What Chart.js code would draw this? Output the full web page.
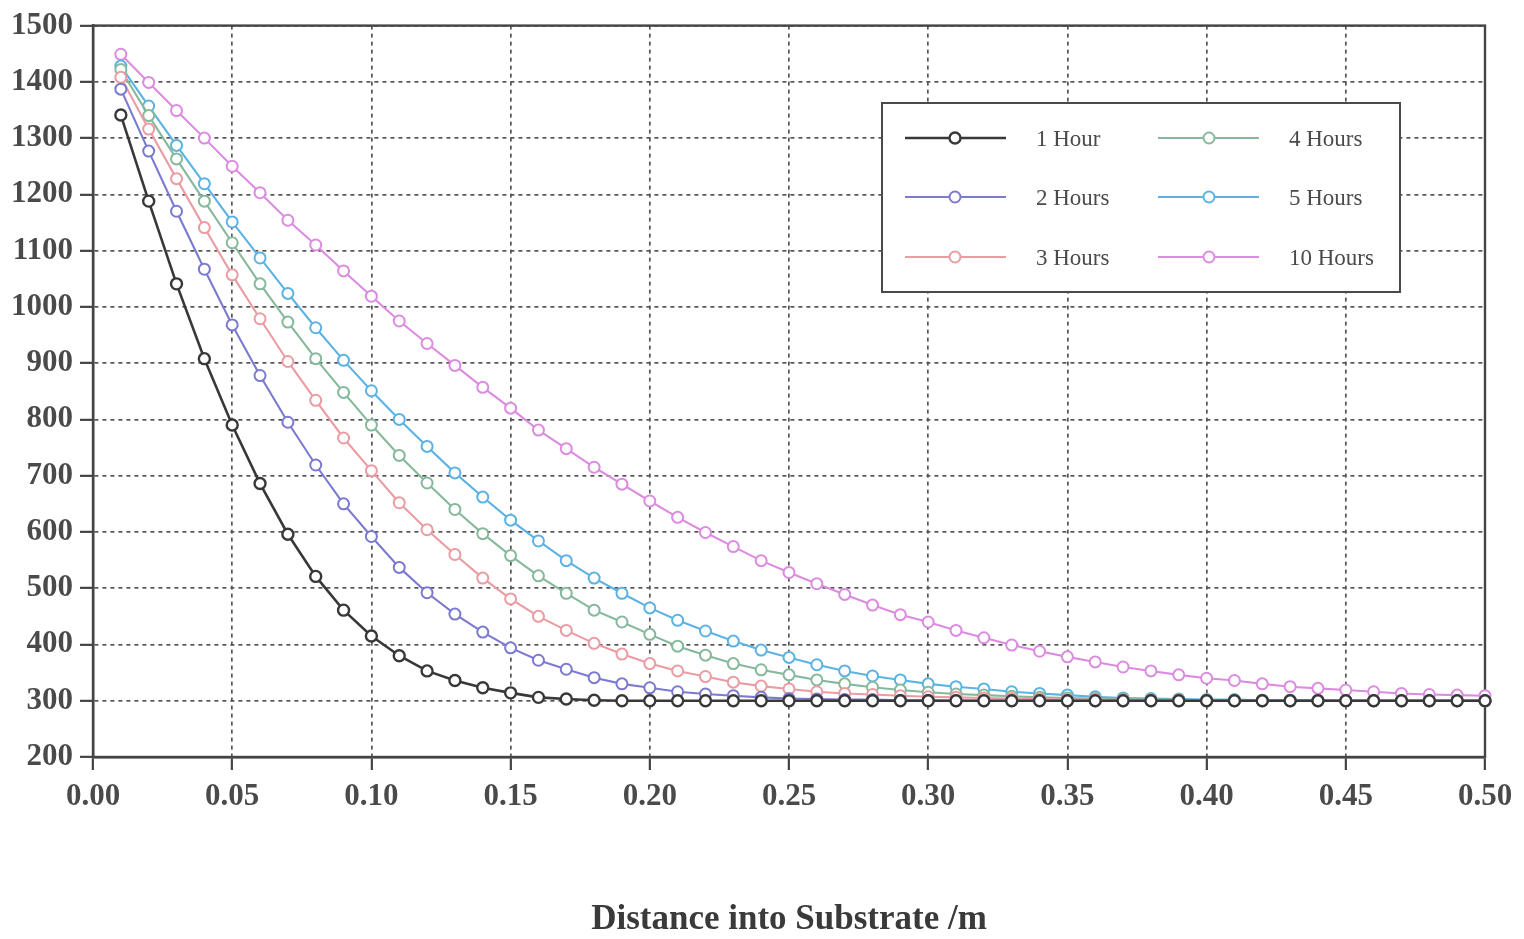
<!DOCTYPE html>
<html>
<head>
<meta charset="utf-8">
<title>Substrate temperature profile</title>
<script src="https://cdn.jsdelivr.net/npm/chart.js@4/dist/chart.umd.min.js"></script>
<style>
    html, body { margin: 0; padding: 0; background: #ffffff; }
    #wrap { width: 1524px; height: 939px; }
</style>
</head>
<body>
<div id="wrap"><canvas id="profileChart" width="1524" height="939"></canvas></div>
<script>
// Distance into substrate (m)
const distance = [
    0.01, 0.02, 0.03, 0.04, 0.05, 0.06, 0.07, 0.08, 0.09, 0.10,
    0.11, 0.12, 0.13, 0.14, 0.15, 0.16, 0.17, 0.18, 0.19, 0.20,
    0.21, 0.22, 0.23, 0.24, 0.25, 0.26, 0.27, 0.28, 0.29, 0.30,
    0.31, 0.32, 0.33, 0.34, 0.35, 0.36, 0.37, 0.38, 0.39, 0.40,
    0.41, 0.42, 0.43, 0.44, 0.45, 0.46, 0.47, 0.48, 0.49, 0.50
];

// Temperature at each depth after the given heating time
const hour1 = [
    1341, 1188, 1041, 908, 790, 686, 596, 521, 461, 415,
    380, 353, 336, 323, 314, 306, 303, 301, 300, 300,
    300, 300, 300, 300, 300, 300, 300, 300, 300, 300,
    300, 300, 300, 300, 300, 300, 300, 300, 300, 300,
    300, 300, 300, 300, 300, 300, 300, 300, 300, 300
];
const hours2 = [
    1387, 1277, 1170, 1067, 968, 878, 795, 719, 650, 592,
    537, 492, 454, 422, 394, 372, 356, 341, 330, 323,
    316, 312, 309, 306, 304, 303, 302, 302, 301, 301,
    300, 300, 300, 300, 300, 300, 300, 300, 300, 300,
    300, 300, 300, 300, 300, 300, 300, 300, 300, 300
];
const hours3 = [
    1408, 1316, 1228, 1141, 1057, 979, 903, 834, 767, 709,
    652, 604, 560, 518, 481, 450, 425, 402, 383, 366,
    353, 343, 333, 326, 321, 316, 313, 311, 309, 307,
    306, 305, 304, 303, 302, 302, 301, 301, 301, 300,
    300, 300, 300, 300, 300, 300, 300, 300, 300, 300
];
const hours4 = [
    1422, 1340, 1263, 1188, 1114, 1041, 973, 908, 848, 790,
    736, 687, 640, 597, 558, 522, 491, 461, 440, 418,
    397, 381, 366, 355, 346, 337, 330, 324, 319, 315,
    312, 310, 308, 306, 305, 304, 303, 302, 302, 301,
    301, 301, 300, 300, 300, 300, 300, 300, 300, 300
];
const hours5 = [
    1428, 1357, 1287, 1219, 1151, 1087, 1024, 963, 905, 851,
    800, 752, 705, 662, 621, 584, 549, 518, 491, 465,
    443, 424, 406, 390, 377, 364, 353, 344, 337, 330,
    325, 321, 316, 313, 310, 307, 305, 304, 303, 302,
    302, 301, 301, 301, 300, 300, 300, 300, 300, 300
];
const hours10 = [
    1449, 1399, 1349, 1300, 1250, 1203, 1154, 1110, 1064, 1019,
    975, 935, 896, 857, 820, 781, 748, 715, 685, 655,
    626, 599, 574, 549, 528, 508, 489, 470, 453, 440,
    425, 412, 399, 388, 378, 369, 360, 353, 346, 340,
    336, 330, 325, 322, 319, 316, 313, 311, 310, 309
];

const seriesLabels = ['1 Hour', '2 Hours', '3 Hours', '4 Hours', '5 Hours', '10 Hours'];
const seriesValues = [hour1, hours2, hours3, hours4, hours5, hours10];
const seriesColors = ['#383838', '#7c7ad0', '#eb9ca3', '#86b99c', '#5cb3e3', '#dc8ce0'];

const serif = "'Liberation Serif', 'Times New Roman', serif";

function makeDataset(label, values, color, index) {
    const heavy = index === 0;
    return {
        label: label,
        data: values.map((v, i) => ({ x: distance[i], y: v })),
        borderColor: color,
        backgroundColor: '#ffffff',
        borderWidth: heavy ? 2.6 : 2.1,
        pointRadius: 5.5,
        pointBorderWidth: heavy ? 2.4 : 2,
        pointBackgroundColor: '#ffffff',
        pointBorderColor: color,
        tension: 0,
        clip: false
    };
}

// Closed frame round the plot area
const framePlugin = {
    id: 'frame',
    beforeDatasetsDraw(chart) {
        const { ctx, chartArea: a } = chart;
        ctx.save();
        ctx.strokeStyle = '#444444';
        ctx.lineWidth = 2.4;
        ctx.strokeRect(a.left, a.top, a.right - a.left, a.bottom - a.top);
        ctx.restore();
    }
};

// Two-column boxed legend, filled column by column
const boxLegend = {
    id: 'boxLegend',
    afterDatasetsDraw(chart) {
        const ctx = chart.ctx;
        const box = { x: 882, y: 103, w: 518, h: 189 };
        const cols = [{ line: 905, mark: 955, text: 1036 }, { line: 1158, mark: 1209, text: 1289 }];
        const rows = [138, 197, 257];

        ctx.save();
        ctx.fillStyle = '#ffffff';
        ctx.fillRect(box.x, box.y, box.w, box.h);
        ctx.strokeStyle = '#4a4a4a';
        ctx.lineWidth = 2;
        ctx.strokeRect(box.x, box.y, box.w, box.h);

        chart.data.datasets.forEach((ds, i) => {
            const col = cols[Math.floor(i / 3)];
            const y = rows[i % 3];
            ctx.strokeStyle = ds.borderColor;
            ctx.lineWidth = ds.borderWidth;
            ctx.beginPath();
            ctx.moveTo(col.line, y);
            ctx.lineTo(col.line + 101, y);
            ctx.stroke();

            ctx.fillStyle = '#ffffff';
            ctx.lineWidth = ds.pointBorderWidth;
            ctx.beginPath();
            ctx.arc(col.mark, y, 5.5, 0, Math.PI * 2);
            ctx.fill();
            ctx.stroke();

            ctx.fillStyle = '#4a4a4a';
            ctx.font = '23px ' + serif;
            ctx.textBaseline = 'middle';
            ctx.textAlign = 'left';
            ctx.fillText(ds.label, col.text, y + 2);
        });
        ctx.restore();
    }
};

const tickFont = { family: serif, size: 31, weight: 'bold' };

new Chart(document.getElementById('profileChart'), {
    type: 'line',
    data: {
        datasets: seriesLabels.map((label, i) => makeDataset(label, seriesValues[i], seriesColors[i], i))
    },
    options: {
        responsive: false,
        animation: false,
        layout: {
            padding: { top: 21, right: 39, left: 0, bottom: 0 }
        },
        plugins: {
            legend: { display: false },
            tooltip: { enabled: false }
        },
        scales: {
            x: {
                type: 'linear',
                min: 0,
                max: 0.5,
                afterFit(scale) { scale.height = 182; },
                ticks: {
                    stepSize: 0.05,
                    autoSkip: false,
                    maxRotation: 0,
                    padding: 8,
                    color: '#4a4a4a',
                    font: tickFont,
                    callback: value => Number(value).toFixed(2)
                },
                grid: {
                    color: '#555555',
                    lineWidth: 1.7,
                    tickLength: 13,
                    tickColor: '#444444',
                    tickWidth: 2.2
                },
                border: { display: true, color: '#444444', width: 2.4, dash: [4, 4] },
                title: {
                    display: true,
                    text: 'Distance into Substrate /m',
                    color: '#3a3a3a',
                    font: { family: serif, size: 35, weight: 'bold' },
                    padding: { top: 0, bottom: -2 }
                }
            },
            y: {
                type: 'linear',
                min: 200,
                max: 1500,
                afterFit(scale) { scale.width = 93; },
                ticks: {
                    stepSize: 100,
                    padding: 7,
                    color: '#4a4a4a',
                    font: tickFont,
                    callback: value => String(value)
                },
                grid: {
                    color: '#555555',
                    lineWidth: 1.7,
                    tickLength: 13,
                    tickColor: '#444444',
                    tickWidth: 2.2
                },
                border: { display: true, color: '#444444', width: 2.4, dash: [4, 4] }
            }
        }
    },
    plugins: [framePlugin, boxLegend]
});
</script>
</body>
</html>
